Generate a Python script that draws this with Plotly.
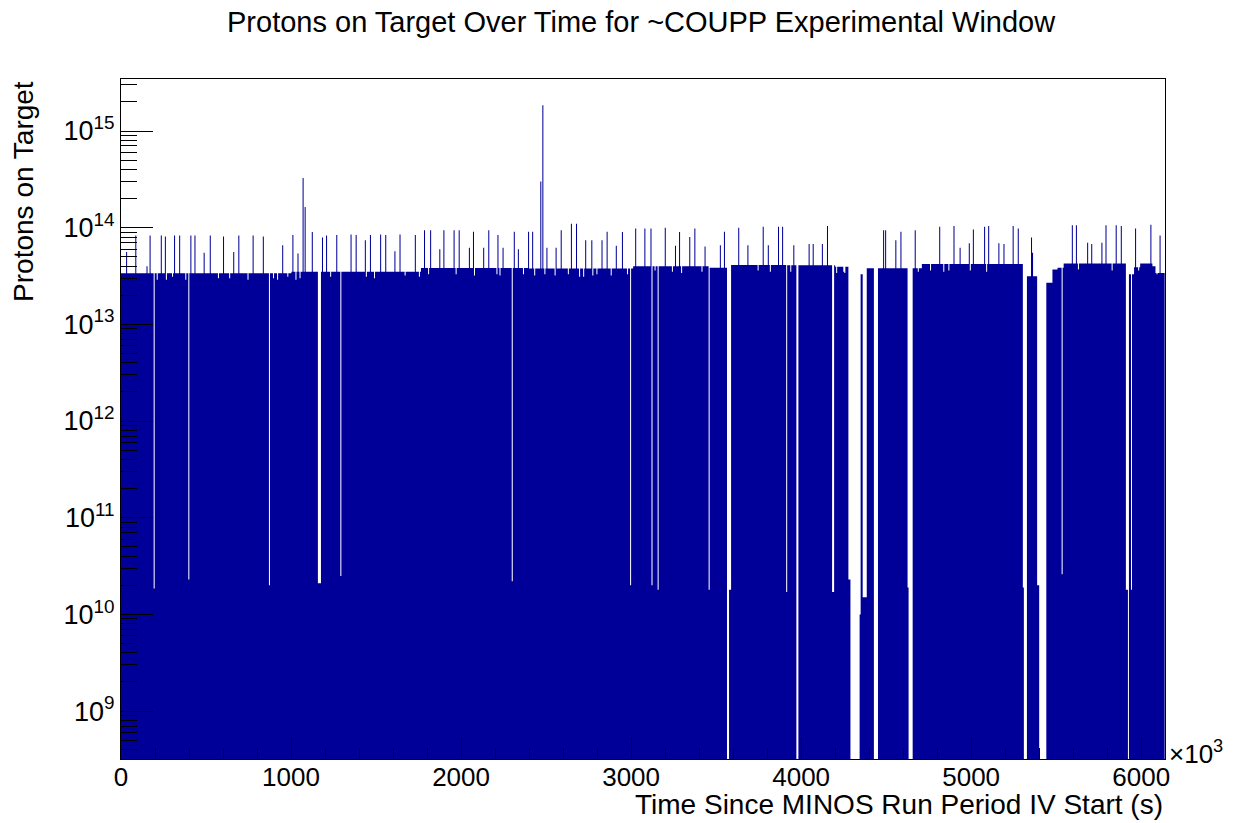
import numpy as np
import plotly.graph_objects as go

# ---------------- data (time in units of 10^3 s, values in protons on target) -------------
# plateau segments of the histogram
seg_start = [0, 1000, 1765, 2400, 3010, 3465, 3590, 3920, 4200, 4346, 4352, 4385, 4455,
             4657, 4711, 5329, 5440, 5478, 5507, 5543, 5927, 5956, 5996, 6067, 6084]
seg_end = [1000, 1765, 2400, 3010, 3465, 3565, 3920, 4200, 4290, 4352, 4362, 4430, 4630,
           4711, 5306, 5390, 5478, 5507, 5543, 5912, 5956, 5996, 6067, 6084, 6140]
seg_pot = [3.38e13, 3.5e13, 3.82e13, 3.78e13, 4.0e13, 3.85e13, 4.12e13, 4.08e13, 3.95e13,
           1.0e10, 3.3e13, 3.8e13, 3.8e13, 3.8e13, 4.2e13, 3.15e13, 2.7e13, 3.7e13, 3.85e13,
           4.25e13, 3.3e13, 3.9e13, 4.25e13, 4.0e13, 3.4e13]

# deep dips (low-intensity bins) and empty stretches (value 0)
dip_start = [192, 399, 868, 1160, 1291, 2299, 2995, 3120, 3158, 3456, 3565, 3577, 3914,
             3970, 4185, 4280, 4362, 4626, 5306, 5390, 5533, 5912, 5938]
dip_end = [198, 405, 874, 1176, 1297, 2305, 3003, 3126, 3164, 3462, 3577, 3590, 3920,
           3982, 4197, 4291, 4385, 4634, 5313, 5400, 5539, 5920, 5944]
dip_pot = [1.85e10, 2.3e10, 2.0e10, 2.1e10, 2.5e10, 2.2e10, 2.0e10, 2.0e10, 1.8e10, 1.8e10,
           0, 1.8e10, 1.7e10, 0, 1.7e10, 2.3e10, 1.5e10, 1.9e10, 1.9e10, 2.0e10, 2.6e10,
           1.8e10, 1.8e10]

# shallow notches in the plateau
notch_x = [212, 234, 267, 302, 382, 571, 640, 747, 894, 920, 983, 1026, 1051, 1230, 1442,
           1489, 1671, 1753, 1806, 1971, 2081, 2208, 2228, 2365, 2434, 2493, 2552, 2630,
           2699, 2718, 2777, 2797, 2885, 2979, 3140, 3242, 3297, 3415, 3748, 3817, 3936,
           4207, 4248, 4258, 4690, 4758, 4837, 4866, 4896, 4994, 5092, 5101, 5631, 5706,
           5768, 5827, 5984, 6092]
notch_pot = [2.9e13, 3.0e13, 2.9e13, 3.1e13, 2.9e13, 3.0e13, 3.0e13, 2.9e13, 3.0e13, 2.9e13,
             3.1e13, 2.9e13, 3.0e13, 3.1e13, 3.1e13, 3.0e13, 3.2e13, 3.1e13, 3.3e13, 3.3e13,
             3.2e13, 3.3e13, 3.2e13, 3.3e13, 3.2e13, 3.3e13, 3.2e13, 3.3e13, 3.1e13, 3.1e13,
             3.2e13, 3.3e13, 3.2e13, 3.3e13, 3.6e13, 3.5e13, 3.4e13, 3.5e13, 3.6e13, 3.5e13,
             3.5e13, 3.4e13, 3.5e13, 3.4e13, 3.5e13, 3.6e13, 3.5e13, 3.6e13, 3.5e13, 3.6e13,
             3.5e13, 3.6e13, 3.7e13, 3.6e13, 3.7e13, 3.6e13, 3.6e13, 3.3e13]

# isolated high-intensity spikes
spike_x = [31, 86, 155, 172, 239, 261, 316, 347, 410, 435, 490, 522, 604, 665, 690, 778,
           834, 951, 1008, 1040, 1071, 1083, 1126, 1183, 1208, 1269, 1355, 1383, 1437, 1469,
           1526, 1558, 1612, 1643, 1730, 1787, 1818, 1875, 1901, 1959, 1987, 2046, 2073,
           2130, 2161, 2218, 2249, 2311, 2334, 2397, 2422, 2471, 2483, 2507, 2561, 2591,
           2648, 2679, 2732, 2770, 2826, 2858, 2914, 2946, 3026, 3081, 3114, 3201, 3258,
           3287, 3342, 3376, 3432, 3523, 3550, 3630, 3687, 3779, 3807, 3864, 3891, 3958,
           4044, 4068, 4125, 4154, 4485, 4499, 4554, 4584, 4672, 4815, 4901, 4933, 4990,
           5015, 5076, 5103, 5162, 5190, 5244, 5276, 5353, 5362, 5597, 5617, 5682, 5709,
           5766, 5792, 5855, 5882, 5966, 6055, 6112]
spike_pot = [5.6e13, 8.3e13, 4.0e13, 8.3e13, 8.3e13, 8.1e13, 8.3e13, 8.3e13, 8.3e13, 8.3e13,
             5.5e13, 8.3e13, 8.1e13, 5.6e13, 8.3e13, 8.3e13, 8.1e13, 6.6e13, 8.4e13, 5.4e13,
             3.27e14, 1.64e14, 9.0e13, 7.9e13, 8.3e13, 8.4e13, 8.5e13, 8.4e13, 7.4e13, 8.4e13,
             8.5e13, 8.4e13, 5.7e13, 8.5e13, 8.4e13, 9.4e13, 9.4e13, 6.0e13, 9.4e13, 9.4e13,
             9.4e13, 6.2e13, 9.1e13, 6.2e13, 9.4e13, 8.4e13, 6.2e13, 9.1e13, 6.0e13, 9.1e13,
             9.1e13, 3.0e14, 1.85e15, 6.2e13, 6.2e13, 9.4e13, 1.1e14, 1.1e14, 7.4e13, 7.4e13,
             7.4e13, 9.1e13, 6.5e13, 9.0e13, 9.8e13, 9.8e13, 9.8e13, 1.0e14, 6.5e13, 9.0e13,
             8.0e13, 9.8e13, 6.4e13, 6.6e13, 9.1e13, 1.0e14, 6.6e13, 1.02e14, 6.6e13, 1.02e14,
             1.02e14, 6.6e13, 6.8e13, 6.8e13, 6.8e13, 1.04e14, 9.4e13, 9.4e13, 7.4e13, 9.1e13,
             9.4e13, 1.02e14, 1.04e14, 6.2e13, 6.9e13, 9.6e13, 1.02e14, 1.04e14, 6.9e13,
             6.8e13, 1.04e14, 9.8e13, 7.9e13, 5.5e13, 1.06e14, 1.06e14, 7.0e13, 6.8e13,
             7.0e13, 1.06e14, 1.06e14, 1.04e14, 9.8e13, 1.07e14, 8.3e13]

x_tick_vals = [0, 1000, 2000, 3000, 4000, 5000, 6000]
y_tick_vals = [1e9, 1e10, 1e11, 1e12, 1e13, 1e14, 1e15]
y_tick_text = ["10<sup>9</sup>", "10<sup>10</sup>", "10<sup>11</sup>", "10<sup>12</sup>",
               "10<sup>13</sup>", "10<sup>14</sup>", "10<sup>15</sup>"]

# ---------------- histogram construction ---------------------------------------------------
bin_w = 6.0
edges = np.arange(0, 6140 + bin_w, bin_w)
centers = 0.5 * (edges[:-1] + edges[1:])
vals = np.zeros(len(centers))
for s, e, v in zip(seg_start, seg_end, seg_pot):
    vals[(centers >= s) & (centers < e)] = v
for x, v in zip(notch_x, notch_pot):
    vals[int(x // bin_w)] = v
for s, e, v in zip(dip_start, dip_end, dip_pot):
    vals[(centers >= s) & (centers < e)] = v
for x, v in zip(spike_x, spike_pot):
    vals[int(x // bin_w)] = v

floor_val = 1e7
px, py = [edges[0]], [floor_val]
for i, v in enumerate(vals):
    vv = v if v > 0 else floor_val
    px += [edges[i], edges[i + 1]]
    py += [vv, vv]
px.append(edges[-1])
py.append(floor_val)

fig = go.Figure()
fig.add_trace(go.Scatter(x=px, y=py, mode="lines", fill="toself", fillcolor="#000099",
                         line=dict(width=0, color="#000099", simplify=False),
                         hoverinfo="skip", showlegend=False))

font_family = "Liberation Sans, Arial, sans-serif"

y_minor = []
for d in range(8, 16):
    for m in range(2, 10):
        y_minor.append(m * 10.0 ** d)

fig.update_layout(
    width=1243, height=823,
    margin=dict(l=121, r=78, t=79, b=64),
    paper_bgcolor="white", plot_bgcolor="white",
    font=dict(family=font_family, size=26, color="black"),
    xaxis=dict(range=[0, 6140], showgrid=False, zeroline=False,
               showline=True, linecolor="black", linewidth=1, mirror=True,
               ticks="inside", ticklen=22, tickcolor="black", tickwidth=1,
               tickvals=x_tick_vals, tickfont=dict(size=26), ticklabelstandoff=-5,
               minor=dict(ticks="inside", ticklen=11, dtick=200, tick0=0,
                          tickcolor="black", showgrid=False)),
    yaxis=dict(type="log", range=[8.504, 15.538], showgrid=False, zeroline=False,
               showline=True, linecolor="black", linewidth=1, mirror=True,
               ticks="inside", ticklen=32, tickcolor="black", tickwidth=1,
               tickvals=y_tick_vals, ticktext=y_tick_text, tickfont=dict(size=27),
               ticklabelstandoff=0,
               minor=dict(ticks="inside", ticklen=16, tickmode="array", tickvals=y_minor,
                          tickcolor="black", showgrid=False)),
)

fig.add_annotation(text="Protons on Target Over Time for ~COUPP Experimental Window",
                   xref="paper", yref="paper", x=0.499, y=1.0838, xanchor="center",
                   yanchor="middle", showarrow=False, font=dict(size=29))
fig.add_annotation(text="Protons on Target", xref="paper", yref="paper", x=-0.0935, y=1.0,
                   xanchor="center", yanchor="top", textangle=-90, showarrow=False,
                   font=dict(size=28))
fig.add_annotation(text="Time Since MINOS Run Period IV Start (s)", xref="paper",
                   yref="paper", x=1.0, y=-0.0676, xanchor="right", yanchor="middle",
                   showarrow=False, font=dict(size=28))
fig.add_annotation(text="×10<sup>3</sup>", xref="paper", yref="paper", x=1.0019, y=0.009,
                   xanchor="left", yanchor="middle", showarrow=False, font=dict(size=26))

fig.write_html("out.html")
